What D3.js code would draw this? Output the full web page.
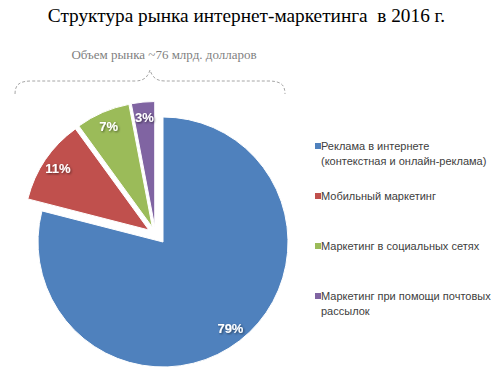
<!DOCTYPE html>
<html>
<head>
<meta charset="utf-8">
<script src="https://cdn.jsdelivr.net/npm/d3@7"></script>
<style>
  body { margin: 0; background: #fff; }
  svg text { white-space: pre; }
</style>
</head>
<body>
<div class="canvas"></div>
<script>
const categories = [
  ["Реклама в интернете", "(контекстная и онлайн-реклама)"],
  ["Мобильный маркетинг"],
  ["Маркетинг в социальных сетях"],
  ["Маркетинг при помощи почтовых", "рассылок"],
];
const shares = [79, 11, 7, 3];
const colors = ["#4f81bd", "#c0504d", "#9bbb59", "#8064a2"];
const title = "Структура рынка интернет-маркетинга  в 2016 г.";
const subtitle = "Объем рынка ~76 млрд. долларов";

const width = 500, height = 375;
const cx = 163, cy = 242, r = 125;
const explode = 8;
const groupShift = [-7.5, -7.5]; // the small slices are pulled out together

const svg = d3.select(".canvas").append("svg")
  .attr("width", width).attr("height", height);

const defs = svg.append("defs");
const shadow = defs.append("filter").attr("id", "shadow")
  .attr("x", "-20%").attr("y", "-20%").attr("width", "140%").attr("height", "140%");
shadow.append("feDropShadow")
  .attr("dx", 1).attr("dy", 1).attr("stdDeviation", 0.8)
  .attr("flood-color", "#000").attr("flood-opacity", 0.55);

// title
svg.append("text")
  .attr("x", 246.5).attr("y", 22)
  .attr("text-anchor", "middle")
  .style("font-family", "Liberation Serif")
  .style("font-size", "19.3px")
  .attr("fill", "#000")
  .text(title);

svg.append("text")
  .attr("x", 164).attr("y", 59)
  .attr("text-anchor", "middle")
  .style("font-family", "Liberation Serif")
  .style("font-size", "13px")
  .attr("fill", "#7f7f7f")
  .text(subtitle);

// curly brace
const brace = d3.path();
brace.moveTo(15, 94);
brace.bezierCurveTo(15, 84, 20, 81, 32, 81);
brace.lineTo(135, 81);
brace.bezierCurveTo(145, 81, 148, 76, 150, 70);
brace.bezierCurveTo(152, 76, 155, 81, 165, 81);
brace.lineTo(268, 81);
brace.bezierCurveTo(280, 81, 285, 84, 285, 94);
svg.append("path")
  .attr("d", brace.toString())
  .attr("fill", "none")
  .attr("stroke", "#a6a6a6")
  .attr("stroke-width", 1)
  .attr("stroke-dasharray", "3,2");

// pie
const pie = d3.pie().sort(null).value((d) => d)(shares);
const arc = d3.arc().innerRadius(0).outerRadius(r);
const labelArc = d3.arc().innerRadius(r * 0.88).outerRadius(r * 0.88);

const offset = (d, i) => {
  if (i === 0) return [0, 0];
  const a = (d.startAngle + d.endAngle) / 2;
  return [groupShift[0] + explode * Math.sin(a), groupShift[1] - explode * Math.cos(a)];
};

const slices = svg.append("g").attr("transform", `translate(${cx},${cy})`)
  .selectAll("g")
  .data(pie)
  .join("g")
  .attr("transform", (d, i) => `translate(${offset(d, i)})`);

slices.append("path")
  .attr("d", arc)
  .attr("fill", (d, i) => colors[i])
  .attr("stroke", "#fff")
  .attr("stroke-width", 1);

slices.append("text")
  .attr("transform", (d) => `translate(${labelArc.centroid(d)})`)
  .attr("text-anchor", "middle")
  .attr("dy", "0.35em")
  .attr("filter", "url(#shadow)")
  .style("font-family", "Liberation Sans")
  .style("font-weight", "bold")
  .style("font-size", "13px")
  .attr("fill", "#fff")
  .text((d) => d.value + "%");

// legend
const legendY = d3.scalePoint().domain(d3.range(categories.length)).range([146, 296]);
const legend = svg.append("g")
  .selectAll("g")
  .data(categories)
  .join("g")
  .attr("transform", (d, i) => `translate(315,${legendY(i)})`);

legend.append("rect")
  .attr("x", 0).attr("y", -3)
  .attr("width", 6).attr("height", 6)
  .attr("fill", (d, i) => colors[i]);

legend.append("text")
  .style("font-family", "Liberation Sans")
  .style("font-size", "11px")
  .attr("fill", "#404040")
  .selectAll("tspan")
  .data((d) => d)
  .join("tspan")
  .attr("x", 6)
  .attr("y", (d, i) => i * 15)
  .attr("dy", "0.35em")
  .text((d) => d);
</script>
</body>
</html>
